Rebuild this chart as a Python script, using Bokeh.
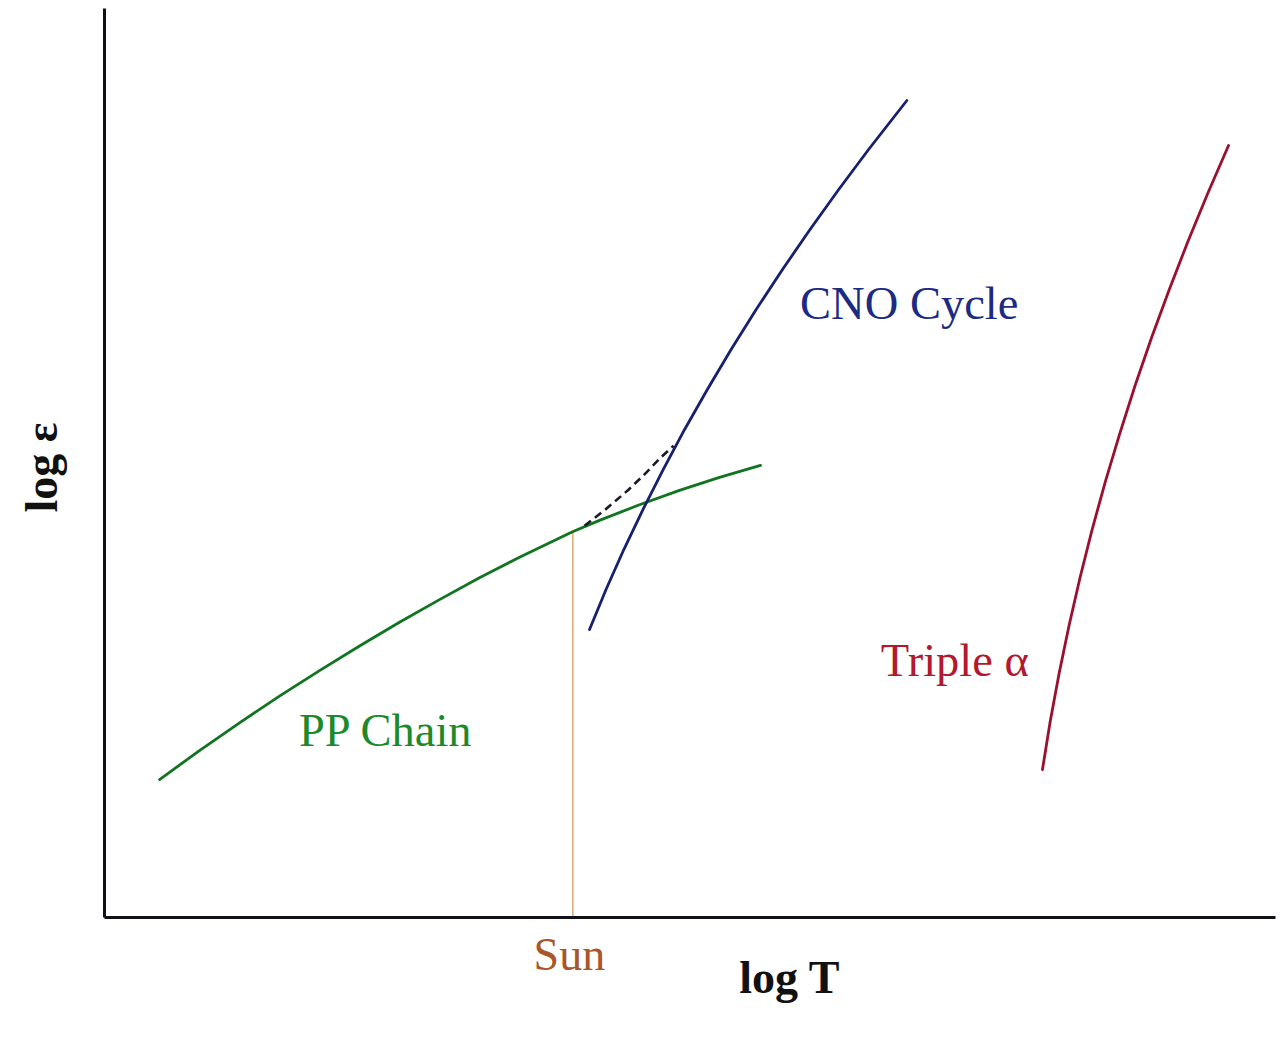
from bokeh.plotting import figure
from bokeh.models import Range1d, LinearAxis, FixedTicker
from bokeh.core.properties import value
from bokeh.embed import file_html
from bokeh.resources import INLINE
import math

# ---- data (arbitrary log units) ----
pp_logT = [0.470, 0.811, 1.153, 1.494, 1.836, 2.178, 2.519, 2.861, 3.202, 3.544,
           3.997, 4.227, 4.569, 4.910, 5.252, 5.602]
pp_logE = [1.518, 1.836, 2.142, 2.435, 2.716, 2.987, 3.248, 3.497, 3.737, 3.964,
           4.244, 4.369, 4.541, 4.699, 4.842, 4.974]

cno_logT = [4.142, 4.283, 4.435, 4.598, 4.771, 4.954, 5.148, 5.351, 5.565, 5.790,
            6.025, 6.270, 6.525, 6.852]
cno_logE = [3.168, 3.608, 4.048, 4.488, 4.928, 5.369, 5.809, 6.249, 6.689, 7.129,
            7.569, 8.009, 8.449, 8.988]

tri_logT = [8.010, 8.076, 8.152, 8.237, 8.331, 8.434, 8.547, 8.670, 8.801, 8.942,
            9.093, 9.252, 9.421, 9.599]
tri_logE = [1.628, 2.156, 2.684, 3.212, 3.740, 4.268, 4.796, 5.324, 5.853, 6.381,
            6.909, 7.437, 7.965, 8.493]

dash_logT = [4.10, 4.28, 4.47, 4.60, 4.75, 4.86]
dash_logE = [4.31, 4.49, 4.70, 4.86, 5.06, 5.19]

sun_logT = [4.00]
sun_logE = [4.24]

curve_names = ["CNO Cycle", "PP Chain", "Triple \u03b1"]
curve_label_x = [5.94, 1.66, 6.63]
curve_label_y = [6.76, 2.06, 2.83]
curve_label_colors = ["#1d2a82", "#1d8a2a", "#b3182c"]

sun_text = ["Sun"]
sun_text_x = [3.97]
sun_text_y = [-0.41]

x_title = ["log T"]
x_title_x = [5.42]
x_title_y = [-0.66]

y_title = ["log \u03b5"]
y_title_x = [-0.54]
y_title_y = [4.95]

FONT = "Liberation Serif"

p = figure(width=1280, height=1046, min_border=0,
           x_range=Range1d(-104 / 117.1, (1280 - 104) / 117.1),
           y_range=Range1d(-(1046 - 917) / 90.9, 917 / 90.9),
           x_axis_location=None, y_axis_location=None,
           output_backend="svg", toolbar_location=None)
p.background_fill_color = "white"
p.border_fill_color = "white"
p.outline_line_color = None
p.grid.visible = False

xax = LinearAxis(fixed_location=0, bounds=(0, 10.0), ticker=FixedTicker(ticks=[]))
yax = LinearAxis(fixed_location=0, bounds=(0, 10.0), ticker=FixedTicker(ticks=[]))
for ax in (xax, yax):
    ax.axis_line_width = 3
    ax.axis_line_color = "#111118"
    ax.major_tick_line_color = None
    ax.minor_tick_line_color = None
    ax.major_label_text_font_size = "0px"
p.add_layout(xax, "below")
p.add_layout(yax, "left")

# sun marker
p.segment(x0=sun_logT, y0=[0], x1=sun_logT, y1=sun_logE, line_color="#d8914e", line_width=1.2)

# curves
p.line(pp_logT, pp_logE, line_color="#107420", line_width=2.8, line_cap="round", line_join="round")
p.line(cno_logT, cno_logE, line_color="#17206e", line_width=2.8, line_cap="round", line_join="round")
p.line(tri_logT, tri_logE, line_color="#9c0f2f", line_width=2.8, line_cap="round", line_join="round")
p.line(dash_logT, dash_logE, line_color="#1a1a2a", line_width=2.6, line_dash="8 5")

p.text(x=curve_label_x, y=curve_label_y, text=curve_names, text_color=curve_label_colors,
       text_font=value(FONT), text_font_size=value("46.5px"),
       text_baseline="alphabetic", text_align="left")
p.text(x=sun_text_x, y=sun_text_y, text=sun_text, text_color="#a8562a",
       text_font=value(FONT), text_font_size=value("46px"),
       text_baseline="alphabetic", text_align="center")
p.text(x=x_title_x, y=x_title_y, text=x_title, text_color="#111111",
       text_font=value(FONT), text_font_size=value("46px"), text_font_style="bold",
       text_baseline="alphabetic", text_align="left")
p.text(x=y_title_x, y=y_title_y, text=y_title, text_color="#111111",
       text_font=value(FONT), text_font_size=value("46px"), text_font_style="bold",
       text_baseline="alphabetic", text_align="center", angle=math.pi / 2)

open("out.html", "w").write(file_html(p, INLINE))
